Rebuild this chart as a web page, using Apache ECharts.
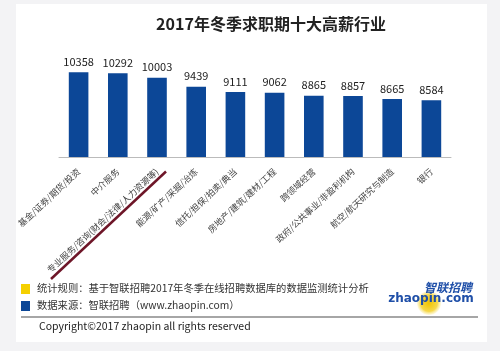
<!DOCTYPE html>
<html>
<head>
<meta charset="utf-8">
<script src="https://cdn.jsdelivr.net/npm/echarts@6/dist/echarts.min.js"></script>
<style>
  html, body { margin: 0; padding: 0; background: #f3f3f5; }
  #chartDiv { width: 500px; height: 351px; }
</style>
</head>
<body>
<div id="chartDiv"></div>
<script>
var titleText = "2017年冬季求职期十大高薪行业";
// 行业
var industries = [
    "基金/证券/期货/投资", "中介服务", "专业服务/咨询(财会/法律/人力资源等)",
    "能源/矿产/采掘/冶炼", "信托/担保/拍卖/典当", "房地产/建筑/建材/工程",
    "跨领域经营", "政府/公共事业/非盈利机构", "航空/航天研究与制造", "银行"
];
// 平均月薪
var salaries = [10358, 10292, 10003, 9439, 9111, 9062, 8865, 8857, 8665, 8584];
var footNotes = [
    "统计规则：基于智联招聘2017年冬季在线招聘数据库的数据监测统计分析",
    "数据来源：智联招聘（www.zhaopin.com）"
];
var copyright = "Copyright©2017 zhaopin all rights reserved";

var font = '"Noto Sans CJK SC", "Noto Sans", sans-serif';
var chartDiv = echarts.init(document.getElementById('chartDiv'));

var option = {
    backgroundColor: '#f3f3f5',
    animation: false,
    title: {
        text: titleText,
        left: 266,
        top: 11,
        textAlign: 'center',
        textStyle: { fontFamily: font, fontSize: 16, fontWeight: 'bold', color: '#222' }
    },
    grid: { left: 59, right: 49, top: 62, bottom: 194 },
    xAxis: {
        type: 'category',
        data: industries,
        axisLine: { lineStyle: { color: '#bbb' } },
        axisTick: { length: 3, lineStyle: { color: '#bbb' } },
        axisLabel: {
            interval: 0,
            rotate: 43,
            margin: 13,
            fontFamily: font,
            fontSize: 8.8,
            color: '#444'
        }
    },
    yAxis: {
        type: 'value',
        min: 5000,
        max: 11000,
        show: false
    },
    series: [{
        type: 'bar',
        data: salaries,
        barWidth: '50%',
        itemStyle: { color: '#0c4797' },
        label: {
            show: true,
            position: 'top',
            distance: 5,
            fontFamily: font,
            fontSize: 11,
            color: '#222'
        }
    }],
    graphic: [
        // white panel
        { type: 'rect', z: -10, shape: { x: 16, y: 4, width: 471, height: 338 }, style: { fill: '#ffffff' } },
        // 手绘下划线
        { type: 'line', z: 10, shape: { x1: 51, y1: 279, x2: 166, y2: 171.5 },
          style: { stroke: '#6e1628', lineWidth: 2.5 } },
        { type: 'rect', shape: { x: 21, y: 284, width: 9, height: 10 }, style: { fill: '#f5d000' } },
        { type: 'text', style: { x: 37, y: 288, text: footNotes[0], font: '10.3px ' + font, fill: '#333', verticalAlign: 'middle' } },
        { type: 'rect', shape: { x: 21, y: 301, width: 9, height: 10 }, style: { fill: '#0c4797' } },
        { type: 'text', style: { x: 37, y: 305, text: footNotes[1], font: '10.3px ' + font, fill: '#333', verticalAlign: 'middle' } },
        { type: 'line', shape: { x1: 21, y1: 317, x2: 478, y2: 317 }, style: { stroke: '#888', lineWidth: 1.5 } },
        { type: 'text', style: { x: 39, y: 326, text: copyright, font: '10.5px ' + font, fill: '#222', verticalAlign: 'middle' } },
        // logo
        { type: 'circle', shape: { cx: 429, cy: 303, r: 12 },
          style: { fill: new echarts.graphic.RadialGradient(0.5, 0.5, 0.5, [
              { offset: 0, color: '#f2c400' }, { offset: 0.7, color: '#f6d84a' }, { offset: 1, color: 'rgba(250,235,150,0.3)' }]) } },
        { type: 'text', style: { x: 448, y: 287, text: '智联招聘', font: 'italic bold 12px ' + font, fill: '#1f4fa8', align: 'center', verticalAlign: 'middle' } },
        { type: 'text', style: { x: 431, y: 299, text: 'zhaopin.com', font: 'bold 12px "DejaVu Sans", sans-serif', fill: '#1f4fa8', align: 'center', verticalAlign: 'middle' } }
    ]
};
chartDiv.setOption(option);
</script>
</body>
</html>
